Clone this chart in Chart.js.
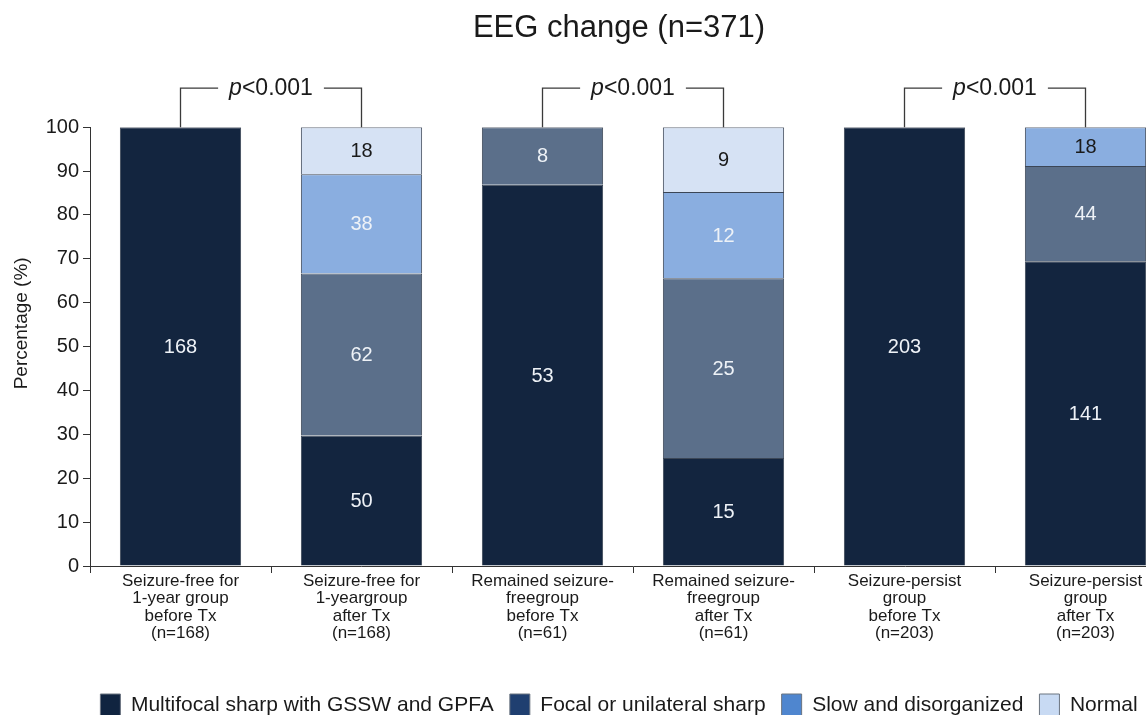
<!DOCTYPE html>
<html>
<head>
<meta charset="utf-8">
<script src="https://cdn.jsdelivr.net/npm/chart.js@4.4.1/dist/chart.umd.min.js"></script>
<style>
  html, body { margin: 0; padding: 0; background: #fff; overflow: hidden; }
  #wrap { width: 1238px; height: 726px; }
</style>
</head>
<body>
<div id="wrap"><canvas id="eegChart" width="1238" height="726"></canvas></div>
<script>
// categories (x axis)
const categories = [
  ["Seizure-free for", "1-year group", "before Tx", "(n=168)"],
  ["Seizure-free for", "1-yeargroup", "after Tx", "(n=168)"],
  ["Remained seizure-", "freegroup", "before Tx", "(n=61)"],
  ["Remained seizure-", "freegroup", "after Tx", "(n=61)"],
  ["Seizure-persist", "group", "before Tx", "(n=203)"],
  ["Seizure-persist", "group", "after Tx", "(n=203)"],
];
const groupTotals = [168, 168, 61, 61, 203, 203];

// patient counts per EEG pattern
const multifocal = [168, 50, 53, 15, 203, 141];
const focal = [null, 62, 8, 25, null, 44];
const slow = [null, 38, null, 12, null, 18];
const normal = [null, 18, null, 9, null, null];

const yTicks = [0, 10, 20, 30, 40, 50, 60, 70, 80, 90, 100];
const pairs = [[0, 1], [2, 3], [4, 5]];

const FONT = "'Liberation Sans', Arial, sans-serif";
const barColors = ["#13253f", "#5b6f8a", "#8aaee0", "#d6e2f4"];
const legendColors = ["#102440", "#1f3f70", "#4f86cf", "#c8daf3"];

const toPct = (arr) => arr.map((v, i) => (v == null ? null : (v / groupTotals[i]) * 100));

const seriesCounts = [multifocal, focal, slow, normal];
const seriesNames = [
  "Multifocal sharp with GSSW and GPFA",
  "Focal or unilateral sharp",
  "Slow and disorganized",
  "Normal",
];

const datasets = seriesCounts.map((counts, d) => ({
  label: seriesNames[d],
  data: toPct(counts),
  counts: counts,
  backgroundColor: barColors[d],
  borderColor: "#3b4656",
  borderWidth: 1,
  barPercentage: 0.67,
  categoryPercentage: 1.0,
}));

// count labels inside the segments
const segmentLabels = {
  id: "segmentLabels",
  afterDatasetsDraw(chart) {
    const ctx = chart.ctx;
    ctx.save();
    ctx.font = "20px " + FONT;
    ctx.textAlign = "center";
    ctx.textBaseline = "middle";
    chart.data.datasets.forEach((ds, d) => {
      const meta = chart.getDatasetMeta(d);
      meta.data.forEach((el, i) => {
        const c = ds.counts[i];
        if (c == null) return;
        // light segment on top of the bar gets dark text
        let isTop = true;
        for (let k = d + 1; k < chart.data.datasets.length; k++) {
          if (chart.data.datasets[k].counts[i] != null) isTop = false;
        }
        ctx.fillStyle = d >= 2 && isTop ? "#1a1a1a" : "#eef2f7";
        ctx.fillText(String(c), el.x, (el.y + el.base) / 2 + 1);
      });
    });
    ctx.restore();
  },
};

// p-value brackets above each pair, and the y axis title
const brackets = {
  id: "brackets",
  afterDraw(chart) {
    const ctx = chart.ctx;
    const xs = chart.scales.x;
    const ys = chart.scales.y;
    const yBar = ys.getPixelForValue(100);
    const yLine = yBar - 39;
    ctx.save();
    ctx.strokeStyle = "#3a3a3a";
    ctx.lineWidth = 1.3;
    ctx.fillStyle = "#1a1a1a";
    ctx.textBaseline = "middle";
    pairs.forEach(([a, b]) => {
      const x1 = xs.getPixelForValue(a);
      const x2 = xs.getPixelForValue(b);
      const mid = (x1 + x2) / 2;
      ctx.font = "italic 23px " + FONT;
      const wP = ctx.measureText("p").width;
      ctx.font = "23px " + FONT;
      const wR = ctx.measureText("<0.001").width;
      const w = wP + wR;
      const tx = mid - w / 2;
      const gap = 11;
      ctx.beginPath();
      ctx.moveTo(x1, yBar);
      ctx.lineTo(x1, yLine);
      ctx.lineTo(tx - gap, yLine);
      ctx.moveTo(tx + w + gap, yLine);
      ctx.lineTo(x2, yLine);
      ctx.lineTo(x2, yBar);
      ctx.stroke();
      ctx.textAlign = "left";
      ctx.font = "italic 23px " + FONT;
      ctx.fillText("p", tx, yLine);
      ctx.font = "23px " + FONT;
      ctx.fillText("<0.001", tx + wP, yLine);
    });

    // y title sits a bit above the middle of the axis
    ctx.translate(22, ys.getPixelForValue(55.3));
    ctx.rotate(-Math.PI / 2);
    ctx.textAlign = "center";
    ctx.font = "19px " + FONT;
    ctx.fillText("Percentage (%)", 0, 0);
    ctx.restore();
  },
};

new Chart(document.getElementById("eegChart"), {
  type: "bar",
  data: { labels: categories, datasets: datasets },
  plugins: [segmentLabels, brackets],
  options: {
    responsive: false,
    animation: false,
    layout: { padding: 0 },
    plugins: {
      title: {
        display: true,
        text: "EEG change (n=371)",
        color: "#1a1a1a",
        font: { family: FONT, size: 31, weight: "normal" },
        padding: { top: 10, bottom: 80 },
      },
      legend: {
        position: "bottom",
        labels: {
          color: "#1a1a1a",
          font: { family: FONT, size: 21 },
          boxWidth: 20,
          boxHeight: 22,
          padding: 16,
          generateLabels(chart) {
            return chart.data.datasets.map((ds, i) => ({
              text: ds.label,
              fillStyle: legendColors[i],
              strokeStyle: "#6b7480",
              lineWidth: 1,
              datasetIndex: i,
              fontColor: "#1a1a1a",
            }));
          },
        },
      },
      tooltip: { enabled: false },
    },
    scales: {
      x: {
        stacked: true,
        afterFit(scale) { scale.height = 112; },
        grid: { display: true, drawOnChartArea: false, tickLength: 7, color: "#333", offset: true },
        border: { display: true, color: "#333", width: 1 },
        ticks: {
          color: "#1a1a1a",
          font: { family: FONT, size: 17, lineHeight: "17.2px" },
          padding: 0,
          maxRotation: 0,
          autoSkip: false,
        },
      },
      y: {
        stacked: true,
        min: 0,
        max: 100,
        afterFit(scale) { scale.width = 90; },
        afterBuildTicks(scale) { scale.ticks = yTicks.map((v) => ({ value: v })); },
        grid: { display: true, drawOnChartArea: false, tickLength: 7, color: "#333" },
        border: { display: true, color: "#333", width: 1 },
        ticks: {
          color: "#1a1a1a",
          font: { family: FONT, size: 20 },
          padding: 4,
        },
      },
      // empty right-hand axis: keeps space so the plot runs off the cropped edge
      yRight: {
        position: "right",
        display: true,
        afterFit(scale) { scale.width = 62; },
        grid: { display: false },
        border: { display: false },
        ticks: { display: false },
      },
    },
  },
});
</script>
</body>
</html>
